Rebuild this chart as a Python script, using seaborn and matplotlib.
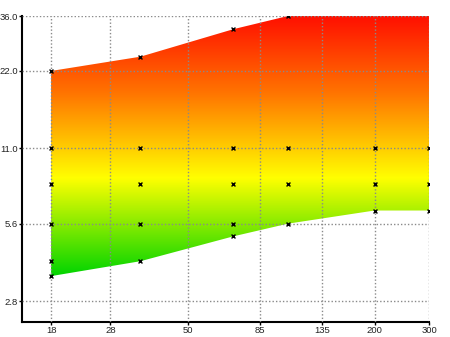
import numpy as np
import matplotlib
matplotlib.use("Agg")
import matplotlib.pyplot as plt
from matplotlib.colors import LinearSegmentedColormap
import seaborn as sns
import pandas as pd

# Band limits along the x axis
band_x = [18, 35, 70, 105, 200, 300]
band_low = [3.5, 4.0, 5.0, 5.6, 6.3, 6.3]
band_high = [22, 25, 32, 36, 45, 45]

# Sample points
point_x = [18, 18, 18, 18, 18, 18,
           35, 35, 35, 35, 35,
           70, 70, 70, 70, 70,
           105, 105, 105, 105,
           200, 200, 200,
           300, 300, 300]
point_y = [22, 11, 8, 5.6, 4.0, 3.5,
           25, 11, 8, 5.6, 4.0,
           32, 11, 8, 5.6, 5.0,
           36, 11, 8, 5.6,
           11, 8, 6.3,
           11, 8, 6.3]

x_ticks = [18, 28, 50, 85, 135, 200, 300]
x_tick_labels = ["18", "28", "50", "85", "135", "200", "300"]
y_ticks = [2.8, 5.6, 11.0, 22.0, 36.0]
y_tick_labels = ["2.8", "5.6", "11.0", "22.0", "36.0"]

sns.set_style("white")
plt.rcParams["font.family"] = ["Liberation Sans", "DejaVu Sans"]

fig = plt.figure(figsize=(4.5, 3.37), dpi=100)
ax = fig.add_axes([22 / 450, 15 / 337, 407 / 450, 306 / 337])
ax.set_xscale("log")
ax.set_yscale("log")
ax.set_xlim(14.5, 300)
ax.set_ylim(2.32, 36)

# Band outline, used as a clip path for the colour gradient
band = ax.fill_between(band_x, band_low, band_high, facecolor="none",
                       edgecolor="none")
clip = band.get_paths()[0]

cmap = LinearSegmentedColormap.from_list(
    "band",
    [(0.0, "#00cc00"), (0.15, "#00d400"), (0.47, "#ffff00"),
     (0.75, "#ff7400"), (1.0, "#ff1000")])
grad = np.linspace(0, 1, 512).reshape(-1, 1)
img = ax.imshow(grad, cmap=cmap, origin="lower", aspect="auto",
                extent=[0, 1, 0, 1], transform=ax.transAxes,
                interpolation="bilinear", zorder=1)
img.set_clip_path(clip, transform=ax.transData)

df = pd.DataFrame({"x": point_x, "y": point_y})
sns.scatterplot(data=df, x="x", y="y", ax=ax, marker="x", color="black",
                s=8, linewidth=1.0, zorder=4, clip_on=True)

ax.set_xticks(x_ticks)
ax.set_xticklabels(x_tick_labels)
ax.set_yticks(y_ticks)
ax.set_yticklabels(y_tick_labels)
ax.minorticks_off()
ax.set_xlabel("")
ax.set_ylabel("")

ax.grid(True, which="major", color="#8a8a8a", linestyle=(0, (1, 1.5)),
        linewidth=1.0, zorder=3)
ax.set_axisbelow(False)
for s in ["top", "right"]:
    ax.spines[s].set_visible(False)
for s in ["left", "bottom"]:
    ax.spines[s].set_color("black")
    ax.spines[s].set_linewidth(1.5)
ax.tick_params(axis="both", which="major", direction="out", length=2,
               width=1, color="black", labelsize=6.8, labelcolor="#222222",
               pad=1)
ax.tick_params(axis="both", which="major", bottom=True, left=True)

fig.savefig("out.png", dpi=100)
